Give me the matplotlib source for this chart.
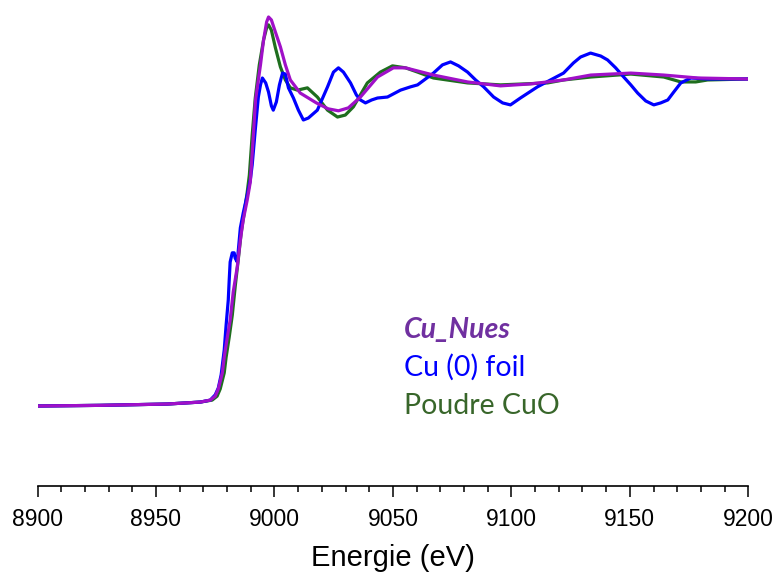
import matplotlib
matplotlib.use("Agg")
import matplotlib.pyplot as plt
from matplotlib.ticker import MultipleLocator

# Energy (eV) and normalized absorbance for each sample
nues_E = [8900, 8926.4, 8954.7, 8968.7, 8972.9, 8975.0, 8976.3, 8978.0, 8978.8, 8980.1,
          8981.3, 8982.6, 8984.3, 8985.6, 8986.8, 8988.5, 8989.8, 8991.1, 8992.0, 8994.1,
          8995.4, 8996.7, 8997.5, 8998.7, 9000.4, 9002.5, 9004.6, 9006.7, 9010.9, 9017.7,
          9022.7, 9027.0, 9031.2, 9036.3, 9043.5, 9050.2, 9055.3, 9067.1, 9081.5, 9095.4,
          9108.1, 9122.0, 9133.5, 9150.4, 9164.3, 9178.7, 9199.8]
nues_mu = [0, 0.002, 0.006, 0.012, 0.018, 0.030, 0.052, 0.101, 0.149, 0.210,
           0.262, 0.348, 0.424, 0.506, 0.567, 0.628, 0.683, 0.826, 0.933, 1.040,
           1.116, 1.171, 1.186, 1.177, 1.140, 1.095, 1.040, 0.994, 0.954, 0.924,
           0.906, 0.900, 0.909, 0.942, 1.003, 1.031, 1.031, 1.009, 0.988, 0.976,
           0.982, 0.994, 1.009, 1.015, 1.009, 1.000, 0.997]

cuo_E = [8900, 8926.4, 8954.7, 8968.7, 8973.7, 8975.8, 8977.1, 8978.8, 8979.6, 8980.9,
         8982.2, 8983.5, 8984.7, 8986.0, 8987.3, 8988.5, 8989.4, 8990.6, 8991.9, 8993.6,
         8995.4, 8996.7, 8997.5, 8998.7, 9000.4, 9002.5, 9004.6, 9006.7, 9009.7, 9013.9,
         9018.1, 9022.4, 9026.6, 9029.9, 9033.3, 9039.2, 9044.7, 9049.8, 9055.3, 9060.4,
         9067.1, 9081.5, 9095.4, 9115.3, 9122.0, 9133.5, 9150.4, 9164.3, 9171.5, 9177.8,
         9182.8, 9199.8]
cuo_mu = [0, 0.002, 0.006, 0.012, 0.018, 0.030, 0.052, 0.101, 0.149, 0.210,
          0.277, 0.369, 0.445, 0.531, 0.592, 0.652, 0.704, 0.826, 0.939, 1.040,
          1.116, 1.153, 1.162, 1.146, 1.092, 1.034, 0.994, 0.970, 0.963, 0.970,
          0.942, 0.902, 0.881, 0.887, 0.912, 0.985, 1.018, 1.037, 1.031, 1.018,
          1.000, 0.985, 0.979, 0.985, 0.994, 1.003, 1.012, 1.003, 0.988, 0.988,
          0.994, 0.997]

foil_E = [8900, 8926.4, 8954.7, 8968.7, 8972.9, 8975.0, 8976.3, 8977.5, 8978.8, 8979.6,
          8980.5, 8980.9, 8981.3, 8982.2, 8983.0, 8983.4, 8984.3, 8985.6, 8986.8, 8988.5,
          8989.8, 8990.6, 8991.9, 8993.2, 8994.1, 8994.9, 8996.3, 8997.5, 8998.7, 8999.5,
          9000.8, 9002.1, 9003.4, 9004.6, 9005.9, 9008.0, 9010.1, 9012.2, 9014.3, 9018.1,
          9022.4, 9024.9, 9027.0, 9029.1, 9032.1, 9034.6, 9036.3, 9038.4, 9041.0, 9043.5,
          9047.7, 9053.2, 9057.4, 9060.4, 9067.1, 9070.9, 9074.3, 9077.7, 9081.5, 9084.9,
          9088.3, 9092.5, 9096.3, 9099.6, 9103.8, 9111.0, 9116.5, 9122.0, 9126.2, 9129.2,
          9133.4, 9137.7, 9140.6, 9144.0, 9147.4, 9150.4, 9153.3, 9156.7, 9160.1, 9163.0,
          9166.0, 9168.5, 9171.5, 9175.7, 9182.8, 9199.8]
foil_mu = [0, 0.002, 0.006, 0.012, 0.018, 0.034, 0.055, 0.095, 0.171, 0.247,
           0.323, 0.384, 0.439, 0.467, 0.467, 0.451, 0.439, 0.543, 0.588, 0.643,
           0.689, 0.735, 0.842, 0.942, 0.979, 1.000, 0.985, 0.957, 0.915, 0.902,
           0.927, 0.979, 1.015, 1.012, 0.970, 0.939, 0.902, 0.872, 0.878, 0.902,
           0.973, 1.018, 1.031, 1.018, 0.985, 0.948, 0.933, 0.924, 0.933, 0.939,
           0.942, 0.963, 0.973, 0.979, 1.015, 1.040, 1.049, 1.037, 1.018, 0.994,
           0.973, 0.942, 0.924, 0.918, 0.939, 0.973, 0.994, 1.015, 1.046, 1.064,
           1.076, 1.067, 1.055, 1.031, 1.003, 0.979, 0.954, 0.930, 0.918, 0.924,
           0.933, 0.957, 0.985, 1.000, 0.997, 0.997]

labels = ["Cu_Nues", "Cu (0) foil", "Poudre CuO"]
x_ticks = [8900, 8950, 9000, 9050, 9100, 9150, 9200]

fig = plt.figure(figsize=(7.77, 5.74), dpi=100)
ax = fig.add_axes([0.0483, 0.1533, 0.9148, 0.8467])

ax.plot(cuo_E, cuo_mu, color="#1E6E1E", lw=2.3, zorder=2, solid_joinstyle="round")
ax.plot(foil_E, foil_mu, color="#0000FF", lw=2.3, zorder=3, solid_joinstyle="round")
ax.plot(nues_E, nues_mu, color="#A010C8", lw=2.3, zorder=4, solid_joinstyle="round")

ax.set_xlim(8900, 9200)
ax.set_ylim(-0.2439, 1.2378)
for s in ["top", "left", "right"]:
    ax.spines[s].set_visible(False)
ax.spines["bottom"].set_linewidth(1.2)
ax.set_yticks([])
ax.set_xticks(x_ticks)
ax.xaxis.set_minor_locator(MultipleLocator(10))
ax.tick_params(axis="x", which="major", length=8, width=1.1, pad=8, labelsize=16.5)
ax.tick_params(axis="x", which="minor", length=4.5, width=1.1)
for t in ax.get_xticklabels():
    t.set_fontfamily("Liberation Sans")
ax.set_xlabel("Energie (eV)", fontsize=21, family="Liberation Sans", labelpad=9)

lx = 9054.5
ax.text(lx, 0.232, labels[0], color="#7030A0", fontsize=20.5, family="Lato",
        fontweight="bold", fontstyle="italic", va="center", ha="left")
ax.text(lx, 0.119, labels[1], color="#0000FF", fontsize=20.5, family="Lato",
        va="center", ha="left")
ax.text(lx, 0.0, labels[2], color="#38662A", fontsize=20.5, family="Lato",
        va="center", ha="left")

fig.savefig("out.png", dpi=100)
